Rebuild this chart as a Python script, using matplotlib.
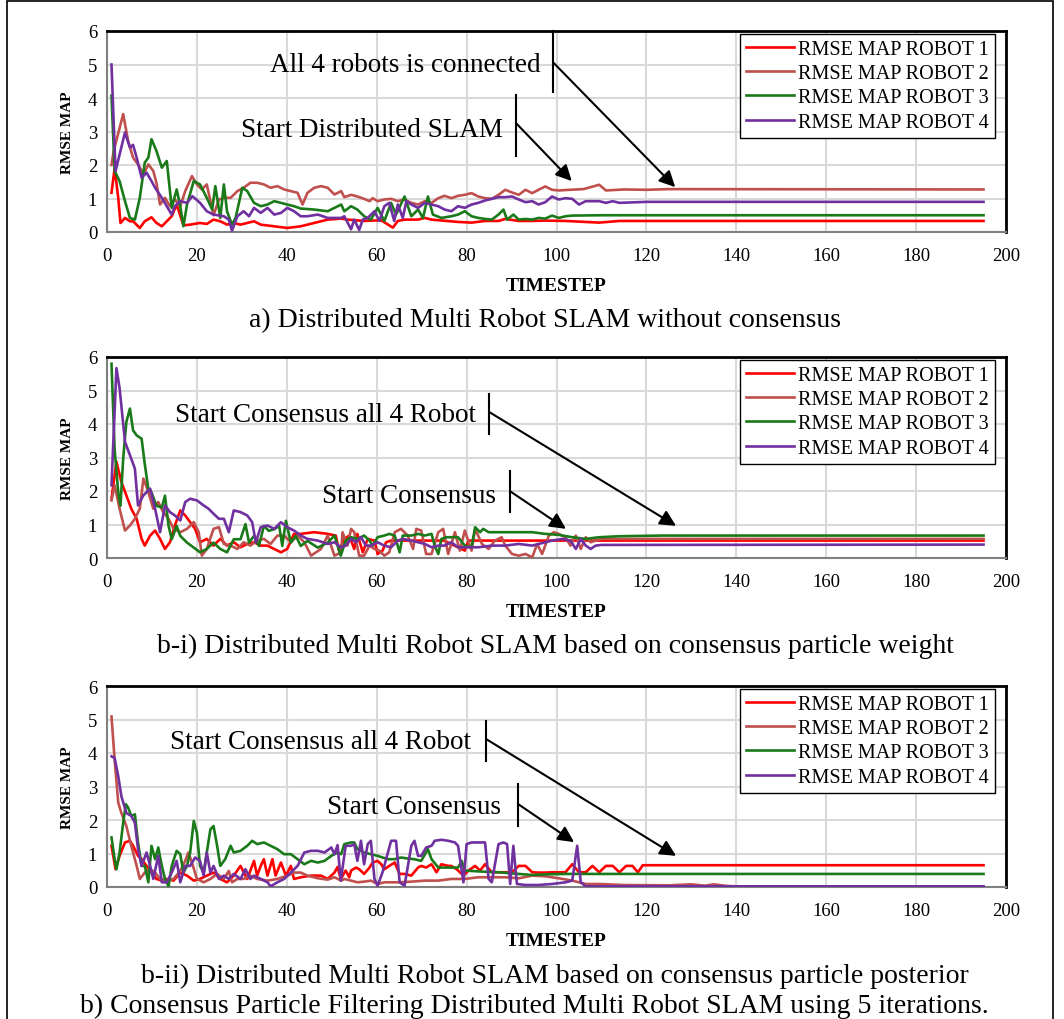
import matplotlib
matplotlib.use("Agg")
import matplotlib.pyplot as plt
from matplotlib.patches import Rectangle

plt.rcParams['font.family'] = ['Liberation Serif', 'DejaVu Serif']

# ---------------- DATA (timestep, RMSE) ----------------
LABELS = ["RMSE MAP ROBOT 1", "RMSE MAP ROBOT 2", "RMSE MAP ROBOT 3", "RMSE MAP ROBOT 4"]
COLORS = ["#ff0000", "#c0504d", "#1a7a1a", "#7030a0"]
X_TICKS = [0, 20, 40, 60, 80, 100, 120, 140, 160, 180, 200]
Y_TICKS = [0, 1, 2, 3, 4, 5, 6]

# Panel a) without consensus
A_R1 = [(1,1.17),(1.7,1.9),(2.5,1.02),(3.0,0.27),(4.0,0.42),(5.1,0.32),(5.8,0.32),(7.3,0.12),(8.4,0.32),
        (9.9,0.44),(11.0,0.27),(12.2,0.17),(13.3,0.32),(14.4,0.47),(15.5,0.82),(17.0,0.2),(18.5,0.22),
        (20.7,0.27),(22.2,0.24),(23.7,0.37),(25.2,0.32),(26.7,0.22),(28.2,0.27),(29.7,0.22),(31.2,0.27),
        (32.7,0.32),(34.2,0.22),(37.2,0.17),(40.1,0.12),(43.1,0.17),(46.1,0.27),(49.1,0.37),(52.1,0.40),
        (53.5,0.37),(57.2,0.33),(61.0,0.35),(63.6,0.13),(64.7,0.33),(66.2,0.37),(69.2,0.37),(70.7,0.42),
        (72.2,0.37),(78.1,0.30),(81.1,0.28),(84.1,0.33),(87.1,0.33),(88.6,0.39),(91.6,0.33),(94.6,0.33),
        (97.5,0.34),(102,0.33),(109.5,0.28),(114,0.33),(195,0.33)]
A_R2 = [(1,2.0),(1.5,2.42),(3.6,3.52),(4.7,2.72),(5.8,2.22),(6.9,2.02),(8.1,1.72),(9.2,2.02),(10.3,1.82),
        (11.0,1.47),(11.8,0.82),(12.9,1.02),(14.0,0.77),(15.1,0.97),(16.3,0.77),(17.4,1.22),(18.9,1.67),
        (20.0,1.42),(21.1,1.27),(22.2,1.42),(23.7,0.5),(24.9,0.97),(26.0,1.02),(27.5,1.02),(29.0,1.22),
        (30.4,1.32),(31.9,1.47),(33.4,1.47),(34.9,1.42),(36.4,1.32),(37.9,1.37),(39.4,1.27),(40.9,1.22),
        (42.4,1.17),(43.5,0.82),(44.6,1.17),(46.1,1.32),(47.6,1.37),(49.1,1.32),(50.6,1.12),(52.1,1.22),
        (52.8,1.04),(54.3,1.11),(55.7,1.06),(57.2,0.99),(58.4,0.92),(59.1,1.01),(60.2,0.92),(61.7,0.97),
        (63.2,0.99),(64.7,0.92),(66.2,0.97),(67.7,0.87),(69.2,0.82),(70.7,0.92),(72.2,0.87),(73.7,1.01),
        (75.1,1.08),(76.6,1.01),(78.1,1.08),(79.6,1.11),(81.1,1.16),(82.6,1.06),(84.1,1.01),(85.6,0.99),
        (87.1,1.11),(88.6,1.26),(90.1,1.18),(91.6,1.11),(93.1,1.26),(94.6,1.16),(96.0,1.26),(97.5,1.36),
        (99.0,1.26),(100.5,1.24),(103,1.26),(106,1.28),(109.5,1.41),(111.0,1.24),(115,1.27),(120,1.26),
        (125,1.28),(195,1.27)]
A_R3 = [(1,4.07),(1.7,1.82),(2.8,1.52),(4.0,0.92),(5.1,0.42),(6.2,0.37),(7.3,1.02),(8.4,2.07),(9.2,2.22),
        (9.9,2.77),(11.0,2.42),(12.2,1.92),(13.3,2.12),(14.4,0.72),(15.5,1.27),(16.3,0.77),(17.0,0.17),
        (17.8,0.82),(19.3,1.52),(20.7,1.42),(22.2,1.02),(23.4,0.67),(24.1,1.37),(25.2,0.42),(26.0,1.42),
        (26.7,0.62),(27.8,0.22),(28.6,0.42),(30.1,1.32),(31.2,1.22),(32.7,0.87),(34.2,0.77),(35.7,0.82),
        (37.2,0.92),(38.7,0.87),(40.1,0.82),(41.6,0.77),(43.1,0.70),(46.1,0.67),(49.1,0.62),(50.6,0.72),
        (52.1,0.82),(52.8,0.62),(54.3,0.77),(55.7,0.67),(57.2,0.47),(58.7,0.37),(60.2,0.72),(61.7,0.33),
        (63.2,0.87),(64.3,0.52),(66.2,1.06),(67.7,0.47),(69.2,0.67),(70.3,0.42),(71.4,1.06),(72.5,0.52),
        (74.4,0.42),(76.6,0.47),(78.1,0.52),(79.6,0.62),(81.1,0.47),(82.6,0.42),(84.1,0.39),(85.6,0.37),
        (87.1,0.52),(88.2,0.67),(89.0,0.37),(90.4,0.52),(91.6,0.37),(93.1,0.39),(94.6,0.37),(96.0,0.42),
        (97.5,0.40),(99.0,0.49),(100.5,0.42),(102.0,0.47),(103.5,0.49),(110,0.5),(195,0.5)]
A_R4 = [(1,5.0),(1.9,1.82),(4.0,2.97),(5.1,2.52),(5.8,2.6),(6.6,2.22),(7.7,1.62),(8.8,1.77),(9.9,1.52),
        (10.7,1.32),(12.2,1.02),(13.3,0.77),(14.4,0.52),(15.1,0.77),(16.3,0.92),(17.8,0.87),(19.0,1.07),
        (20.7,0.87),(22.2,0.62),(23.7,0.52),(26.0,0.47),(27.1,0.37),(27.8,0.04),(29.0,0.47),(30.4,0.62),
        (31.6,0.47),(32.7,0.72),(34.2,0.57),(35.7,0.72),(37.2,0.52),(38.7,0.57),(40.1,0.72),(41.6,0.62),
        (43.1,0.47),(44.6,0.47),(46.9,0.52),(49.1,0.42),(52.1,0.42),(52.8,0.47),(54.3,0.08),(55.0,0.37),
        (56.1,0.06),(56.9,0.37),(58.0,0.42),(59.5,0.62),(60.6,0.33),(61.7,0.77),(62.8,0.87),(63.9,0.33),
        (64.7,0.82),(65.8,0.42),(66.6,0.92),(67.7,0.82),(69.2,0.72),(70.7,0.87),(72.2,0.82),(73.7,0.77),
        (75.1,0.67),(76.6,0.62),(78.1,0.77),(79.6,0.72),(81.1,0.82),(82.6,0.87),(84.1,0.94),(85.6,0.99),
        (87.1,1.04),(88.6,1.04),(90.1,1.06),(91.6,0.97),(93.1,0.89),(94.6,0.92),(96.0,0.82),(97.5,0.89),
        (99.0,1.06),(100.5,0.97),(102.0,1.01),(103.5,0.99),(105.0,0.82),(106.5,0.92),(108.0,0.92),
        (109.5,0.92),(111.0,0.87),(112.5,0.92),(114.0,0.87),(120,0.9),(195,0.9)]

# Panel b-i) consensus particle weight
B1_R1 = [(1,1.77),(2.1,2.87),(3.2,2.27),(4.3,1.87),(5.4,1.47),(6.6,1.17),(7.7,0.57),(8.4,0.37),(9.6,0.67),
         (10.7,0.82),(11.8,0.57),(12.9,0.27),(14.0,0.47),(15.1,0.97),(16.3,1.42),(17.4,1.27),(18.5,1.07),
         (19.6,0.87),(20.7,0.47),(22.2,0.57),(23.7,0.37),(25.2,0.57),(26.7,0.37),(28.2,0.47),(29.7,0.32),
         (31.2,0.42),(32.7,0.47),(34.2,0.37),(35.7,0.37),(37.2,0.27),(38.7,0.17),(40.1,0.27),(41.6,0.72),
         (43.1,0.72),(46.1,0.77),(49.1,0.72),(50.9,0.67),(51.6,0.22),(52.8,0.57),(53.9,0.67),(55.0,0.27),
         (55.7,0.72),(56.9,0.17),(58.0,0.57),(59.5,0.52),(60.2,0.12),(61.3,0.22),(62.1,0.47),(63.2,0.52),
         (64.7,0.52),(70,0.52),(75,0.52),(79.6,0.22),(80.4,0.52),(85,0.52),(90,0.52),(100,0.52),(195,0.52)]
B1_R2 = [(1,1.72),(1.7,2.17),(2.8,1.47),(4.0,0.82),(5.1,0.97),(6.2,1.17),(7.3,1.47),(8.1,2.37),(9.2,1.97),
         (10.3,1.47),(11.4,1.67),(12.5,1.37),(13.7,1.17),(14.8,0.87),(16.3,0.77),(17.8,0.87),(19.3,1.07),
         (20.4,0.77),(21.1,0.07),(22.2,0.27),(23.7,0.87),(24.9,0.92),(26.0,0.42),(27.5,0.37),(29.0,0.27),
         (30.4,0.47),(31.9,0.37),(33.4,0.52),(34.9,0.57),(36.4,0.42),(37.9,0.67),(39.4,0.67),(40.9,0.47),
         (42.4,0.67),(43.9,0.47),(45.4,0.07),(47.6,0.27),(49.1,0.67),(50.6,0.07),(52.1,0.17),(52.4,0.77),
         (53.5,0.37),(54.3,0.87),(55.0,0.77),(56.1,0.07),(57.2,0.07),(58.4,0.37),(59.5,0.27),(60.6,0.22),
         (61.7,0.07),(62.8,0.17),(64.0,0.77),(65.4,0.87),(66.9,0.67),(68.1,0.27),(68.8,0.87),(69.9,0.82),
         (71.0,0.12),(72.2,0.12),(73.7,0.77),(74.8,0.87),(75.9,0.12),(77.4,0.77),(78.5,0.22),(79.6,0.82),
         (81.1,0.22),(81.9,0.87),(83.4,0.42),(84.9,0.27),(86.3,0.52),(87.8,0.62),(88.6,0.37),(90.1,0.12),
         (91.6,0.07),(93.1,0.12),(94.6,0.02),(95.7,0.42),(96.8,0.12),(98.3,0.67),(99.4,0.77),(100.5,0.72),
         (102.0,0.62),(103.1,0.37),(104.3,0.67),(105.4,0.27),(106.5,0.62),(107.6,0.47),(108.7,0.52),
         (110,0.57),(195,0.57)]
B1_R3 = [(1,5.80),(1.7,3.24),(2.5,1.96),(3.0,1.56),(3.6,2.96),(4.3,4.06),(5.1,4.46),(5.8,3.81),(6.6,3.66),
         (7.7,3.56),(8.4,2.81),(9.2,2.06),(9.9,1.96),(11.0,1.56),(12.2,1.51),(12.9,1.86),(13.7,0.96),
         (14.4,0.56),(15.5,0.96),(16.3,0.66),(17.8,0.46),(19.3,0.31),(20.7,0.17),(22.2,0.27),(23.7,0.46),
         (25.2,0.27),(26.7,0.17),(28.2,0.56),(29.7,0.56),(30.8,1.01),(31.6,0.46),(32.7,0.66),(33.8,0.36),
         (34.9,0.96),(36.0,0.81),(37.2,0.86),(38.3,0.96),(39.0,0.36),(39.8,1.11),(40.9,0.46),(42.0,0.66),
         (43.1,0.36),(44.6,0.51),(46.9,0.31),(49.1,0.46),(50.6,0.67),(52.0,0.07),(53.1,0.52),(54.3,0.62),
         (55.7,0.57),(57.2,0.67),(58.4,0.52),(59.1,0.37),(60.2,0.62),(61.7,0.67),(62.8,0.72),(64.0,0.67),
         (65.1,0.17),(65.8,0.67),(67.7,0.67),(69.2,0.72),(70.7,0.67),(72.2,0.72),(72.9,0.37),(73.7,0.12),
         (74.4,0.57),(75.5,0.62),(76.6,0.62),(78.1,0.62),(79.6,0.37),(81.1,0.32),(81.9,0.92),(83.0,0.77),
         (83.7,0.87),(84.9,0.77),(86.3,0.77),(88.6,0.77),(91.6,0.77),(94.6,0.77),(97.5,0.72),(100.5,0.69),
         (103.5,0.62),(106.5,0.57),(109.5,0.62),(114.0,0.65),(123.7,0.67),(195,0.67)]
B1_R4 = [(1,2.17),(2.1,5.67),(2.8,5.07),(4.0,3.47),(5.1,3.07),(6.2,2.67),(6.9,1.57),(8.1,1.87),(9.6,2.07),
         (10.7,1.47),(11.8,0.77),(12.9,1.57),(14.0,1.37),(15.1,1.27),(16.3,1.12),(17.4,1.67),(18.5,1.77),
         (20.0,1.72),(21.5,1.57),(22.6,1.47),(23.7,1.32),(24.9,1.17),(26.0,1.17),(27.1,0.77),(28.2,1.42),
         (29.7,1.37),(31.2,1.27),(32.3,1.07),(33.1,0.47),(34.2,0.92),(35.7,0.97),(37.2,0.87),(38.7,1.07),
         (40.1,0.92),(41.6,0.82),(43.1,0.67),(44.6,0.57),(46.9,0.52),(49.1,0.42),(50.6,0.47),(52.0,0.32),
         (53.1,0.37),(54.3,0.57),(55.4,0.47),(56.5,0.62),(57.6,0.37),(58.7,0.37),(60.2,0.47),(61.7,0.37),
         (63.2,0.32),(64.7,0.52),(65.8,0.57),(67.7,0.52),(69.2,0.47),(70.7,0.42),(72.2,0.32),(73.7,0.37),
         (75.1,0.37),(76.6,0.47),(78.1,0.32),(79.6,0.32),(82.6,0.32),(85.6,0.37),(88.6,0.37),(91.6,0.42),
         (94.6,0.37),(97.5,0.47),(99.0,0.52),(101.3,0.57),(103.1,0.52),(104.3,0.27),(105.4,0.57),
         (106.5,0.37),(107.6,0.27),(108.7,0.37),(110,0.39),(195,0.40)]

# Panel b-ii) consensus particle posterior
B2_R1 = [(1,1.23),(1.9,0.53),(2.8,0.93),(4.0,1.33),(5.1,1.38),(5.8,1.23),(6.9,0.93),(7.7,0.83),(8.8,0.63),
         (9.9,0.43),(11.0,0.24),(12.2,0.19),(13.3,0.24),(14.8,0.19),(16.3,0.43),(17.8,0.34),(19.3,0.19),
         (20.7,0.24),(22.2,0.34),(23.7,0.43),(25.2,0.24),(26.7,0.14),(28.2,0.34),(29.7,0.63),(31.2,0.24),
         (32.7,0.78),(33.4,0.34),(34.2,0.63),(34.9,0.83),(35.7,0.34),(36.8,0.83),(37.5,0.34),(38.7,0.73),
         (39.8,0.34),(40.9,0.63),(41.6,0.24),(43.1,0.29),(45.4,0.34),(47.6,0.34),(49.1,0.24),(50.6,0.43),
         (51.3,0.60),(52.0,0.24),(53.1,0.49),(53.9,0.29),(54.3,0.49),(55.4,0.58),(56.1,0.53),(57.2,0.39),
         (58.4,0.58),(59.1,0.73),(60.2,0.78),(61.0,0.68),(61.7,0.53),(62.8,0.63),(64.0,0.73),(65.1,0.39),
         (66.2,0.39),(67.7,0.34),(69.2,0.58),(69.9,0.63),(71.0,0.58),(72.2,0.68),(73.3,0.44),(74.4,0.68),
         (75.9,0.63),(76.6,0.63),(77.8,0.53),(79.3,0.34),(80.4,0.49),(81.9,0.63),(83.0,0.49),(84.1,0.68),
         (85.6,0.44),(87.1,0.44),(88.6,0.44),(90.1,0.44),(91.6,0.63),(93.1,0.63),(94.6,0.44),(96.0,0.43),
         (97.5,0.43),(99.0,0.44),(100.5,0.44),(102.0,0.44),(103.5,0.68),(105.0,0.44),(106.5,0.44),
         (108.0,0.63),(109.5,0.44),(111.0,0.63),(112.5,0.63),(114.0,0.44),(115.5,0.63),(116.9,0.63),
         (118.1,0.44),(119.2,0.65),(195,0.65)]
B2_R2 = [(1,5.09),(1.7,3.80),(2.5,2.52),(3.2,2.21),(4.3,1.82),(5.4,1.23),(6.6,0.63),(7.3,0.24),(8.4,0.43),
         (9.6,0.53),(10.7,0.43),(11.8,0.24),(13.3,0.19),(14.8,0.24),(16.3,0.48),(17.4,0.78),(18.1,1.03),
         (18.9,0.73),(20.0,0.24),(21.5,0.14),(23.0,0.24),(24.5,0.39),(26.0,0.24),(27.1,0.48),(27.8,0.14),
         (29.0,0.24),(30.4,0.24),(31.9,0.34),(33.4,0.24),(35.7,0.19),(37.9,0.24),(40.1,0.34),(41.6,0.43),
         (43.1,0.43),(44.6,0.34),(46.9,0.26),(49.1,0.22),(50.6,0.29),(52.1,0.19),(52.8,0.24),(54.3,0.19),
         (55.7,0.14),(57.2,0.16),(58.7,0.19),(60.2,0.09),(61.7,0.14),(64.7,0.14),(67.7,0.16),(70.7,0.19),
         (73.7,0.19),(76.6,0.24),(79.6,0.24),(82.6,0.29),(85.6,0.29),(88.6,0.29),(91.6,0.26),(94.6,0.34),
         (97.5,0.32),(100.5,0.26),(103.5,0.19),(106.5,0.09),(109.5,0.09),(115,0.06),(125,0.05),(130,0.08),
         (133,0.04),(135,0.08),(138,0.03),(140,0.02),(195,0.02)]
B2_R3 = [(1,1.48),(1.7,0.83),(2.1,0.53),(2.8,1.03),(3.6,1.92),(4.2,2.47),(4.7,2.37),(5.4,2.12),(6.2,2.17),
         (6.9,1.33),(7.7,0.63),(8.4,0.63),(9.2,0.14),(9.9,1.23),(10.7,0.83),(11.4,1.18),(12.2,0.63),
         (12.9,0.24),(13.7,0.02),(14.4,0.63),(15.5,1.08),(16.3,0.98),(17.0,0.43),(17.8,0.63),(18.5,1.03),
         (19.3,1.97),(20.0,1.62),(20.7,0.63),(21.5,0.43),(22.2,1.03),(23.0,1.72),(23.7,1.82),(24.5,1.23),
         (25.2,0.63),(26.3,0.83),(27.5,1.23),(28.2,1.03),(29.7,1.08),(31.2,1.23),(32.3,1.38),(33.4,1.28),
         (34.9,1.33),(36.4,1.23),(37.9,1.13),(39.4,0.98),(40.9,0.98),(42.4,0.83),(43.9,0.68),(45.4,0.78),
         (46.9,0.73),(48.4,0.78),(49.9,0.93),(51.3,1.03),(52.1,0.98),(52.8,1.28),(54.3,1.33),(55.0,1.33),
         (55.7,1.13),(56.5,1.08),(57.2,1.03),(58.7,0.98),(60.2,0.93),(61.3,0.88),(62.5,0.83),(64.0,0.83),
         (65.4,0.88),(66.9,0.85),(68.4,0.83),(69.9,0.78),(71.4,1.13),(72.2,0.83),(73.7,0.58),(75.1,0.58),
         (76.6,0.58),(78.1,0.58),(78.9,0.78),(79.6,0.49),(83.4,0.46),(87.1,0.44),(91.6,0.39),(94.6,0.36),
         (98.3,0.38),(102.0,0.39),(195,0.39)]
B2_R4 = [(1,3.90),(1.7,3.85),(2.5,3.31),(3.2,2.71),(4.3,2.21),(5.4,2.12),(6.2,1.92),(6.9,1.13),(7.7,0.63),
         (8.8,1.03),(9.6,0.63),(10.3,0.24),(11.4,0.93),(12.2,0.14),(13.3,0.14),(14.4,0.43),(15.5,0.78),
         (16.3,0.14),(17.4,0.63),(18.5,0.63),(19.6,0.88),(20.7,0.78),(21.5,0.34),(22.2,1.03),(23.0,0.43),
         (23.7,0.63),(24.9,0.24),(26.0,0.34),(27.1,0.24),(28.2,0.39),(29.7,0.24),(30.8,0.53),(31.9,0.24),
         (32.7,0.34),(34.2,0.24),(35.7,0.14),(36.4,0.02),(37.9,0.14),(39.4,0.24),(40.9,0.43),(42.4,0.63),
         (43.9,1.03),(45.4,1.08),(46.9,1.08),(48.4,1.03),(49.9,1.18),(50.6,0.98),(51.3,1.25),(52.0,0.19),
         (53.1,1.23),(54.3,1.23),(55.0,1.28),(55.7,0.78),(56.5,1.38),(57.2,0.68),(58.0,1.28),(58.7,1.38),
         (59.5,0.24),(60.2,0.04),(61.3,0.44),(62.5,1.03),(63.2,1.38),(64.3,1.38),(65.1,0.14),(66.2,0.04),
         (67.7,1.23),(68.4,1.38),(69.2,0.93),(69.9,0.93),(71.0,1.18),(72.2,1.23),(72.9,1.38),(74.4,1.41),
         (75.9,1.38),(77.4,1.33),(78.1,1.23),(79.3,0.14),(80.0,1.28),(81.1,1.33),(82.6,1.33),(84.1,1.33),
         (84.9,0.24),(85.6,0.14),(87.1,1.28),(88.2,1.33),(89.0,1.28),(89.7,0.09),(90.4,1.23),(91.2,0.09),
         (93.1,0.06),(96.0,0.06),(99.0,0.09),(102.0,0.14),(103.5,0.19),(104.6,1.23),(105.4,0.14),
         (106.5,0.02),(109.5,0.02),(195,0.02)]

PANELS = [
    dict(series=[A_R1, A_R2, A_R3, A_R4],
         caption="a) Distributed Multi Robot SLAM without consensus",
         notes=[("All 4 robots is connected", (66.3, 4.99), (99.2, 6.0, 4.18), (99.2, 5.07), (126.4, 1.34)),
                ("Start Distributed SLAM", (59.0, 3.07), (91.0, 4.09, 2.27), (91.0, 3.25), (103.4, 1.52))]),
    dict(series=[B1_R1, B1_R2, B1_R3, B1_R4],
         caption="b-i) Distributed Multi Robot SLAM based on consensus particle weight",
         notes=[("Start Consensus all 4 Robot", (48.7, 4.27), (85.0, 4.9, 3.7), (85.0, 4.36), (126.6, 0.96)),
                ("Start Consensus", (67.2, 1.88), (89.7, 2.6, 1.37), (89.7, 1.99), (102.1, 0.87))]),
    dict(series=[B2_R1, B2_R2, B2_R3, B2_R4],
         caption="b-ii) Distributed Multi Robot SLAM based on consensus particle posterior",
         notes=[("Start Consensus all 4 Robot", (47.6, 4.33), (84.3, 4.96, 3.75), (84.3, 4.42), (126.6, 0.93)),
                ("Start Consensus", (68.3, 2.39), (91.4, 3.06, 1.82), (91.4, 2.48), (103.9, 1.34))]),
]
FINAL_CAPTION = "b) Consensus Particle Filtering Distributed Multi Robot SLAM using 5 iterations."

# ---------------- LAYOUT ----------------
W, H = 1064, 1020
fig = plt.figure(figsize=(W / 100, H / 100), dpi=100)

def fx(px):
    return px / W

def fy(py):
    return 1 - py / H

# outer frame
fig.add_artist(Rectangle((fx(7), fy(1030)), fx(1053) - fx(7), fy(2) - fy(1030),
                         transform=fig.transFigure, fill=False, ec='black', lw=1.2))

ax_left, ax_right = 107, 1006
tops = [32, 358, 687]
bottoms = [233, 559, 888]
caption_y = [321, 646, 976]
caption_x = [545, 555, 555]

for p, panel in enumerate(PANELS):
    ax = fig.add_axes([fx(ax_left), fy(bottoms[p]), fx(ax_right) - fx(ax_left), fy(tops[p]) - fy(bottoms[p])])
    for s, data in enumerate(panel['series']):
        xs = [d[0] for d in data]
        ys = [d[1] for d in data]
        ax.plot(xs, ys, color=COLORS[s], lw=1.9, label=LABELS[s], solid_joinstyle='round', zorder=3)
    ax.set_xlim(0, 200)
    ax.set_ylim(0, 6)
    ax.set_xticks(X_TICKS)
    ax.set_yticks(Y_TICKS)
    ax.tick_params(axis='x', length=0, labelsize=13.5, pad=11)
    ax.tick_params(axis='y', length=0, labelsize=13.5, pad=7)
    ax.grid(True, color='#d9d9d9', lw=1.5, zorder=0)
    ax.set_axisbelow(True)
    for side in ['top', 'right']:
        ax.spines[side].set_color('black')
        ax.spines[side].set_linewidth(2.0)
    for side in ['left', 'bottom']:
        ax.spines[side].set_color('#808080')
        ax.spines[side].set_linewidth(1.5)
    ax.set_xlabel("TIMESTEP", fontsize=14, fontweight='bold', labelpad=9)
    ax.set_ylabel("RMSE MAP", fontsize=11, fontweight='bold', labelpad=10)
    leg = ax.legend(loc='upper right', bbox_to_anchor=(0.988, 0.985), fontsize=14.5, frameon=True,
                    fancybox=False, edgecolor='black', framealpha=1, borderpad=0.3,
                    labelspacing=0.25, handlelength=2.4, handletextpad=0.2, borderaxespad=0)
    leg.get_frame().set_linewidth(1.0)
    for text, tpos, bar, a0, a1 in panel['notes']:
        ax.text(tpos[0], tpos[1], text, fontsize=19.5, ha='center', va='center', zorder=5)
        ax.plot([bar[0], bar[0]], [bar[1], bar[2]], color='black', lw=1.5, zorder=5, clip_on=False)
        ax.annotate("", xy=a1, xytext=a0,
                    arrowprops=dict(arrowstyle='-|>', color='black', lw=1.5, mutation_scale=24,
                                    shrinkA=0, shrinkB=0), zorder=5)
    fig.text(fx(caption_x[p]), fy(caption_y[p]), panel['caption'], fontsize=20, ha='center', va='center')

fig.text(fx(534), fy(1006), FINAL_CAPTION, fontsize=20, ha='center', va='center')

fig.savefig("out.png", dpi=100)
